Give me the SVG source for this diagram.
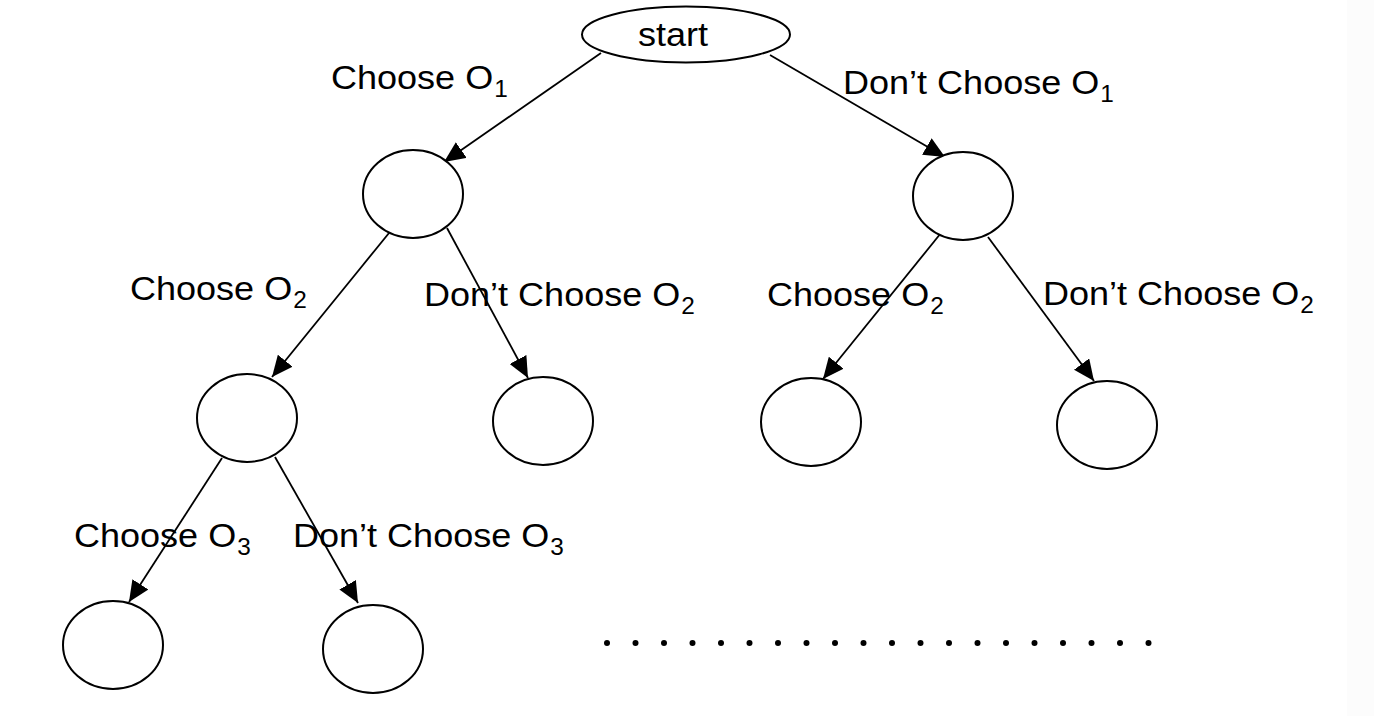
<svg xmlns="http://www.w3.org/2000/svg" width="1374" height="716" viewBox="0 0 1374 716">
<defs>
<marker id="arr" markerUnits="userSpaceOnUse" markerWidth="21" markerHeight="19" refX="21" refY="9.5" orient="auto">
<path d="M0,0 L21,9.5 L0,19 z" fill="#000"/>
</marker>
</defs>
<style>
.node{fill:#fff;stroke:#000;stroke-width:2}
.edge{fill:none;stroke:#000;stroke-width:1.8;marker-end:url(#arr)}
.lbl{font-family:"Liberation Sans",Arial,sans-serif;font-size:34px;fill:#000}
.sub{font-size:23px}
.dot{fill:#000}
</style>
<rect x="0" y="0" width="1374" height="716" fill="#fff"/>
<rect x="1347" y="0" width="27" height="716" fill="#fcfcfc"/>
<g id="connectors">
<line class="edge" x1="601" y1="53" x2="444" y2="162"/>
<line class="edge" x1="770" y1="55" x2="945" y2="157"/>
<line class="edge" x1="389" y1="233" x2="272" y2="377"/>
<line class="edge" x1="447" y1="228" x2="528" y2="378"/>
<line class="edge" x1="941" y1="233" x2="823" y2="379"/>
<line class="edge" x1="988" y1="237" x2="1094" y2="381"/>
<line class="edge" x1="222" y1="458" x2="129" y2="602"/>
<line class="edge" x1="275" y1="457" x2="358" y2="603"/>
</g>
<g id="start"><ellipse class="node" cx="686" cy="34.5" rx="104" ry="28"/>
<text class="lbl" transform="translate(638,46) scale(1.06,1)">start</text></g>
<g id="n1"><ellipse class="node" cx="413" cy="194" rx="50" ry="44"/></g>
<g id="n2"><ellipse class="node" cx="963" cy="196" rx="50" ry="44"/></g>
<g id="n3"><ellipse class="node" cx="247" cy="418" rx="50" ry="44"/></g>
<g id="n4"><ellipse class="node" cx="543" cy="421" rx="50" ry="44"/></g>
<g id="n5"><ellipse class="node" cx="811" cy="422" rx="50" ry="44"/></g>
<g id="n6"><ellipse class="node" cx="1107" cy="425" rx="50" ry="44"/></g>
<g id="n7"><ellipse class="node" cx="113" cy="645" rx="50" ry="44"/></g>
<g id="n8"><ellipse class="node" cx="373" cy="649" rx="50" ry="44"/></g>
<g id="labels">
<text class="lbl" transform="translate(331,89) scale(1.06,1)">Choose O<tspan class="sub" dx="1" dy="8">1</tspan></text>
<text class="lbl" transform="translate(843,94) scale(1.06,1)">Don’t Choose O<tspan class="sub" dx="1" dy="8">1</tspan></text>
<text class="lbl" transform="translate(130,300) scale(1.06,1)">Choose O<tspan class="sub" dx="1" dy="8">2</tspan></text>
<text class="lbl" transform="translate(424,306) scale(1.06,1)">Don’t Choose O<tspan class="sub" dx="1" dy="8">2</tspan></text>
<text class="lbl" transform="translate(767,306) scale(1.06,1)">Choose O<tspan class="sub" dx="1" dy="8">2</tspan></text>
<text class="lbl" transform="translate(1043,305) scale(1.06,1)">Don’t Choose O<tspan class="sub" dx="1" dy="8">2</tspan></text>
<text class="lbl" transform="translate(74,547) scale(1.06,1)">Choose O<tspan class="sub" dx="1" dy="8">3</tspan></text>
<text class="lbl" transform="translate(293,547) scale(1.06,1)">Don’t Choose O<tspan class="sub" dx="1" dy="8">3</tspan></text>
</g>
<g id="ellipsis">
<circle class="dot" cx="607" cy="643" r="3"/>
<circle class="dot" cx="635.5" cy="643" r="3"/>
<circle class="dot" cx="664" cy="643" r="3"/>
<circle class="dot" cx="692.5" cy="643" r="3"/>
<circle class="dot" cx="721" cy="643" r="3"/>
<circle class="dot" cx="749.5" cy="643" r="3"/>
<circle class="dot" cx="778" cy="643" r="3"/>
<circle class="dot" cx="806.5" cy="643" r="3"/>
<circle class="dot" cx="835" cy="643" r="3"/>
<circle class="dot" cx="863.5" cy="643" r="3"/>
<circle class="dot" cx="892" cy="643" r="3"/>
<circle class="dot" cx="920.5" cy="643" r="3"/>
<circle class="dot" cx="949" cy="643" r="3"/>
<circle class="dot" cx="977.5" cy="643" r="3"/>
<circle class="dot" cx="1006" cy="643" r="3"/>
<circle class="dot" cx="1034.5" cy="643" r="3"/>
<circle class="dot" cx="1063" cy="643" r="3"/>
<circle class="dot" cx="1091.5" cy="643" r="3"/>
<circle class="dot" cx="1120" cy="643" r="3"/>
<circle class="dot" cx="1148.5" cy="643" r="3"/>
</g>
</svg>
